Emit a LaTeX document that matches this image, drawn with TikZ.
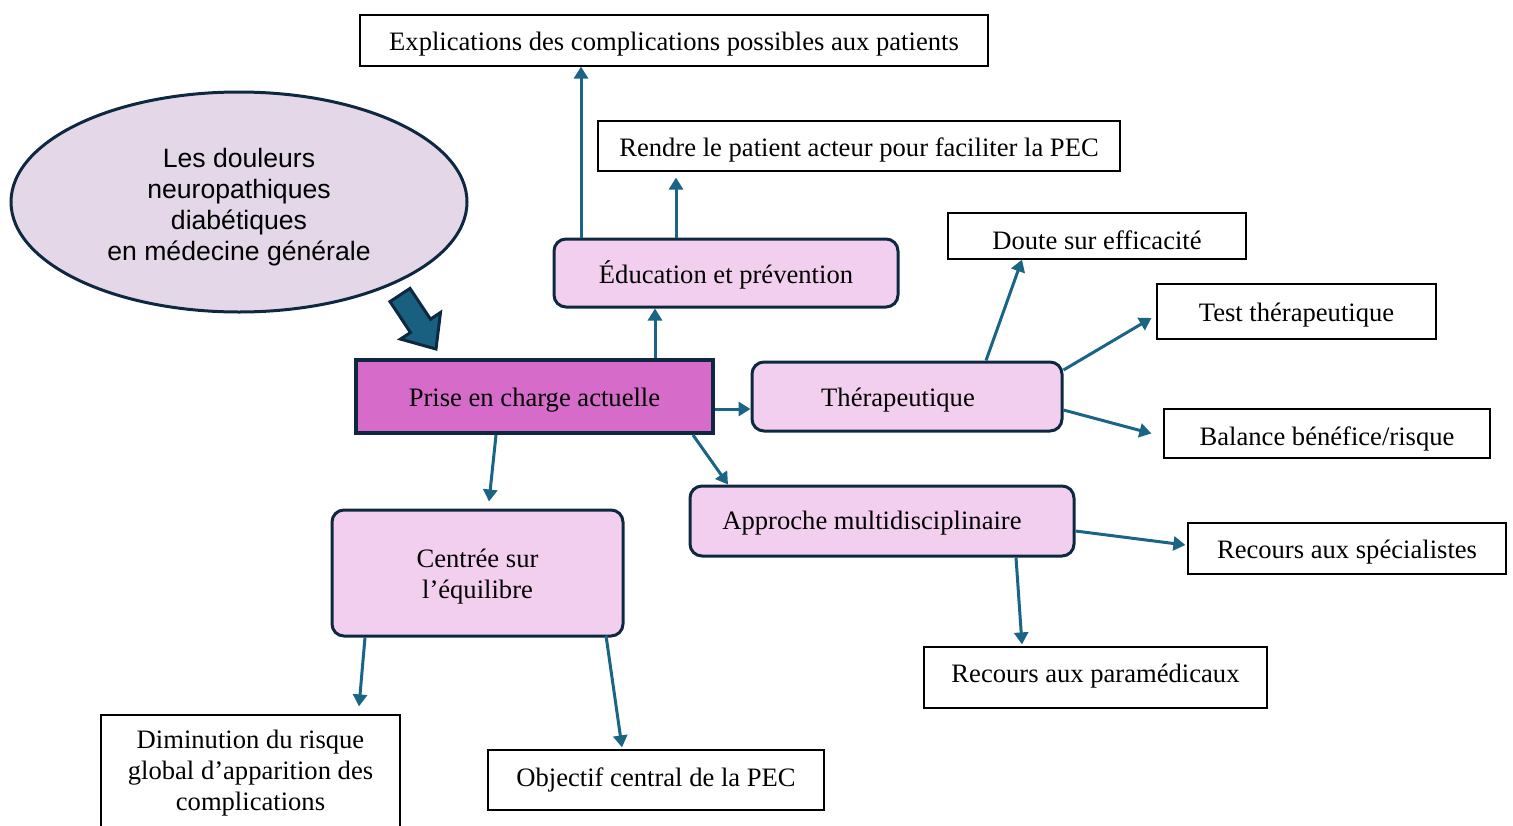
\documentclass[tikz,border=0pt]{standalone}
\usepackage{fontspec}
\setmainfont{Liberation Serif}
\newfontfamily\arialfont{Liberation Sans}
\usetikzlibrary{arrows.meta,shapes.geometric}

\definecolor{arrowblue}{HTML}{1A6486}
\definecolor{navy}{HTML}{0E2841}
\definecolor{pinkfill}{HTML}{F2CFEE}
\definecolor{magenta}{HTML}{D66BC9}
\definecolor{lavender}{HTML}{E3D7E8}

\tikzset{
	oneline/.style={text height=10pt, text depth=0pt},
	leaf/.style={draw=black, line width=0.6pt, inner sep=2pt, align=center},
	proc/.style={draw=navy, line width=1.5pt, rounded corners=6pt, fill=pinkfill, align=center},
	link/.style={draw=arrowblue, line width=1.5pt, -{Triangle[length=6pt,width=7pt]}},
}

\begin{document}
\begin{tikzpicture}[x=0.5pt, y=-0.5pt, font=\fontsize{13.3}{15.5}\selectfont]
	\useasboundingbox (0,0) rectangle (1513,825);
	\clip (0,0) rectangle (1513,825);
	
	% theme
	\node[ellipse, draw=navy, line width=1.5pt, fill=lavender, minimum width=228pt, minimum height=110pt, align=center, text height=58pt, text depth=0pt, font=\arialfont\fontsize{13.3}{15.5}\selectfont] (theme) at (239,202) {Les douleurs\\neuropathiques\\diabétiques\\en médecine générale};
	\draw[navy, line width=1.5pt, fill=arrowblue!95!black, miter limit=10]
		(390,301.6) -- (410,288.4) -- (430.5,319.2) -- (440.5,312.5) -- (436,349) -- (400.5,339.1) -- (410.5,332.5) -- cycle;
	
	% central nodes
	\node[draw=navy, line width=2pt, fill=magenta, minimum width=178.5pt, minimum height=36.5pt, oneline] (prise) at (534.5,396.5) {Prise en charge actuelle};
	\node[proc, oneline, minimum width=172pt, minimum height=34pt] (edu) at (726,273) {Éducation et prévention};
	\node[proc, oneline, minimum width=155pt, minimum height=34.5pt] (thera) at (907,396.5) {\hspace*{-9pt}Thérapeutique};
	\node[proc, oneline, text height=8pt, minimum width=192pt, minimum height=35pt] (appr) at (882,521) {\hspace*{-10pt}Approche multidisciplinaire};
	\node[proc, minimum width=145.5pt, minimum height=63pt, text height=25pt, text depth=0pt] (centre) at (477.5,573) {Centrée sur\\l’équilibre};
	
	% leaves
	\node[leaf, oneline, minimum width=314pt, minimum height=25.5pt] (expl) at (674,40.5) {Explications des complications possibles aux patients};
	\node[leaf, oneline, minimum width=261pt, minimum height=25pt] (rendre) at (859,146) {Rendre le patient acteur pour faciliter la PEC};
	\node[leaf, oneline, text height=13pt, minimum width=149pt, minimum height=23pt] (doute) at (1097,236) {Doute sur efficacité};
	\node[leaf, oneline, minimum width=139.5pt, minimum height=27.5pt] (test) at (1296.5,311.5) {Test thérapeutique};
	\node[leaf, oneline, text height=12pt, minimum width=163pt, minimum height=24.5pt] (balance) at (1327,433.5) {Balance bénéfice/risque};
	\node[leaf, oneline, minimum width=159pt, minimum height=25.5pt] (spec) at (1347,548.5) {Recours aux spécialistes};
	\node[leaf, oneline, text height=5pt, minimum width=171.5pt, minimum height=30.5pt] (param) at (1095.5,677.5) {Recours aux paramédicaux};
	\node[leaf, oneline, text height=6pt, minimum width=168pt, minimum height=30pt] (obj) at (656,780) {Objectif central de la PEC};
	\node[leaf, minimum width=149.5pt, minimum height=57pt, text height=38pt, text depth=0pt] (dimin) at (250.5,772) {Diminution du risque\\global d’apparition des\\complications};
	
	% connectors
	\draw[link] ([xshift=60.25pt]prise.north) -- ([xshift=-35.5pt]edu.south);
	\draw[link] ([xshift=-72.5pt]edu.north) -- ([xshift=-46.5pt]expl.south);
	\draw[link] ([xshift=-25pt]edu.north) -- ([xshift=-91.5pt,yshift=-3pt]rendre.south);
	\draw[link] ([yshift=-6.25pt]prise.east) -- ([yshift=-6.25pt]thera.west);
	\draw[link] ([xshift=79.25pt]prise.south) -- ([xshift=-77pt]appr.north);
	\draw[link] ([xshift=-19.25pt]prise.south) -- ([xshift=5.75pt,yshift=3.5pt]centre.north);
	\draw[link] ([xshift=39.5pt]thera.north) -- ([xshift=-37.5pt]doute.south);
	\draw[link] ([yshift=13.25pt]thera.east) -- ([xshift=-2.5pt,yshift=-3.25pt]test.west);
	\draw[link] ([yshift=-6.75pt]thera.east) -- ([xshift=-6pt]balance.west);
	\draw[link] ([yshift=-5pt]appr.east) -- ([xshift=-1pt,yshift=1.75pt]spec.west);
	\draw[link] ([xshift=67pt]appr.south) -- ([xshift=-36.75pt,yshift=1pt]param.north);
	\draw[link] ([xshift=-56.25pt]centre.south) -- ([xshift=54.25pt,yshift=4pt]dimin.north);
	\draw[link] ([xshift=64.25pt,yshift=1pt]centre.south) -- ([xshift=-17pt,yshift=1pt]obj.north);
\end{tikzpicture}
\end{document}
